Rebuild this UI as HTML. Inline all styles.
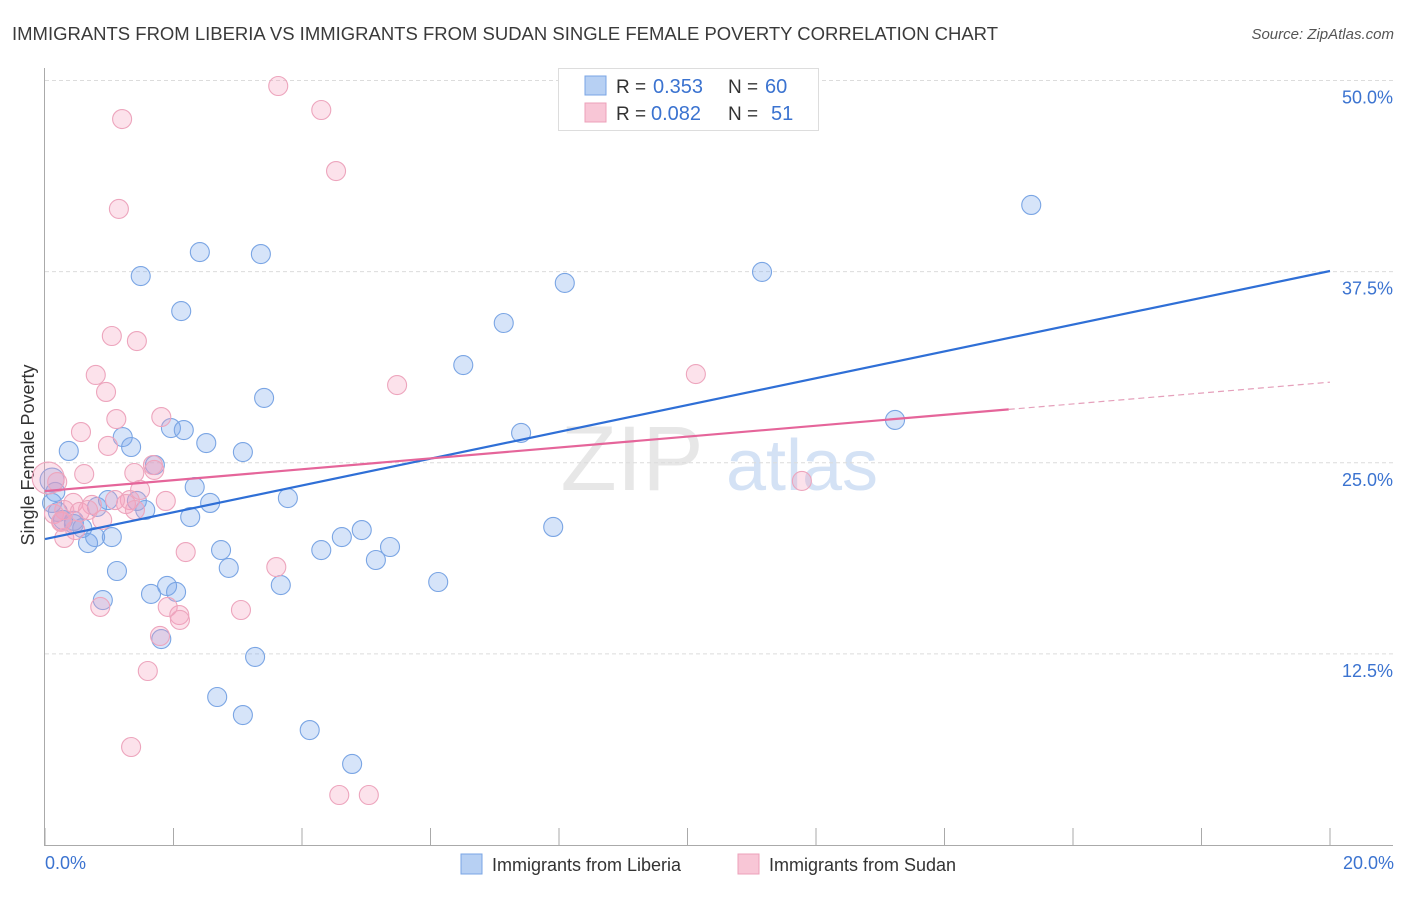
<!DOCTYPE html>
<html><head><meta charset="utf-8"><style>
body{margin:0;background:#fff;font-family:"Liberation Sans",sans-serif;}
svg text{font-family:"Liberation Sans",sans-serif;}
</style></head><body>
<svg id="chart" width="1406" height="892" xmlns="http://www.w3.org/2000/svg">
<text x="12" y="40" font-size="18" fill="#3a3a3a" textLength="986" lengthAdjust="spacingAndGlyphs">IMMIGRANTS FROM LIBERIA VS IMMIGRANTS FROM SUDAN SINGLE FEMALE POVERTY CORRELATION CHART</text>
<text x="1394" y="39" font-size="15" fill="#555" font-style="italic" text-anchor="end">Source: ZipAtlas.com</text>
<g>
<text x="632" y="490" font-size="92" fill="#d8d8d8" text-anchor="middle" font-family="Liberation Serif" opacity="0.6">ZIP</text>
<text x="802" y="490" font-size="72" fill="#b8cff0" text-anchor="middle" opacity="0.6">atlas</text>
</g>
<g id="grid"></g>
<line x1="44.5" y1="68" x2="44.5" y2="845" stroke="#aaa" stroke-width="1"/>
<line x1="44" y1="845.5" x2="1393" y2="845.5" stroke="#aaa" stroke-width="1"/>
<g id="xticks"></g>
<text transform="translate(34,455) rotate(-90)" font-size="18" fill="#333" text-anchor="middle">Single Female Poverty</text>
<text x="45" y="869" font-size="18" fill="#3b73d0">0.0%</text>
<text x="1394" y="869" font-size="18" fill="#3b73d0" text-anchor="end">20.0%</text>
<g id="points"></g>
<g id="lines"></g>
<g>
<rect x="558.5" y="68.5" width="260" height="62" fill="#fff" stroke="#ddd"/>
<rect x="585" y="76" width="21" height="19" fill="#b7d0f3" stroke="#7aa5e4"/>
<rect x="585" y="103" width="21" height="19" fill="#f8c6d6" stroke="#eca0b9"/>
<text x="616" y="93" font-size="19" fill="#333">R =</text>
<text x="653" y="93" font-size="20" fill="#3b73d0">0.353</text>
<text x="728" y="93" font-size="19" fill="#333">N =</text>
<text x="765" y="93" font-size="20" fill="#3b73d0">60</text>
<text x="616" y="120" font-size="19" fill="#333">R =</text>
<text x="651" y="120" font-size="20" fill="#3b73d0">0.082</text>
<text x="728" y="120" font-size="19" fill="#333">N =</text>
<text x="771" y="120" font-size="20" fill="#3b73d0">51</text>
</g>
<g>
<rect x="461" y="854" width="21" height="20" fill="#b7d0f3" stroke="#7aa5e4"/>
<text x="492" y="871" font-size="18" fill="#333">Immigrants from Liberia</text>
<rect x="738" y="854" width="21" height="20" fill="#f8c6d6" stroke="#eca0b9"/>
<text x="769" y="871" font-size="18" fill="#333">Immigrants from Sudan</text>
</g>
</svg>
<script>
const yTicks=[12.5,25,37.5,50];
const yTickLabels=["12.5%","25.0%","37.5%","50.0%"];
const xTickVals=[0,2,4,6,8,10,12,14,16,18,20];
const liberiaX=[0.11,0.16,0.11,0.20,0.28,0.37,0.45,0.58,0.67,0.78,0.81,0.90,0.98,1.04,1.12,1.21,1.34,1.43,1.49,1.56,1.65,1.71,1.81,1.90,1.96,2.04,2.12,2.16,2.26,2.33,2.41,2.51,2.57,2.74,2.86,3.08,3.08,2.68,3.27,3.36,3.41,3.67,3.78,4.12,4.30,4.62,4.78,4.93,5.15,5.37,6.12,6.51,7.14,7.41,7.91,8.09,11.16,13.23,15.35,0.45];
const liberiaY=[23.87,23.09,22.37,21.78,21.26,25.77,20.99,20.73,19.75,20.14,22.11,16.02,22.56,20.14,17.92,26.68,26.03,22.50,37.21,21.91,16.42,24.85,13.47,16.94,27.27,16.55,34.92,27.14,21.45,23.41,38.78,26.29,22.37,19.29,18.12,25.70,8.50,9.68,12.30,38.65,29.24,17.00,22.69,7.52,19.29,20.14,5.30,20.60,18.64,19.49,17.20,31.39,34.14,26.95,20.80,36.76,37.48,27.80,41.86,21.20];
const sudanX=[3.63,4.30,1.20,4.53,1.15,1.04,1.43,0.79,0.95,5.48,10.13,1.11,1.81,0.56,0.98,1.68,1.39,1.70,0.61,0.05,0.19,1.48,1.32,1.88,0.44,0.73,0.30,0.14,0.54,1.26,0.89,0.25,0.30,2.19,3.60,0.86,3.05,1.91,2.09,2.10,1.79,1.60,1.34,4.58,5.04,11.78,0.26,0.67,1.09,1.40,0.47];
const sudanY=[49.64,48.07,47.48,44.08,41.60,33.29,32.96,30.74,29.63,30.08,30.80,27.86,27.99,27.01,26.10,24.85,24.33,24.53,24.26,24.00,23.74,23.22,22.56,22.50,22.37,22.24,21.91,21.65,21.78,22.30,21.26,21.13,20.08,19.16,18.18,15.57,15.37,15.57,15.04,14.72,13.67,11.38,6.41,3.27,3.27,23.81,21.19,21.91,22.56,21.91,20.60];
const liberiaTrend=[20.01,37.54];
const sudanTrend=[23.15,30.27];
const sudanSolidEnd=15.0;
const NS="http://www.w3.org/2000/svg";
const xs=v=>45+v*64.25;
const ys=v=>845-v*15.29;
function mk(t,a,p){const e=document.createElementNS(NS,t);for(const k in a)e.setAttribute(k,a[k]);p.appendChild(e);return e;}
const grid=document.getElementById('grid');
yTicks.forEach((v,i)=>{
 const l=mk('line',{x1:45,x2:1393,y1:ys(v),y2:ys(v),stroke:'#dcdcdc','stroke-dasharray':'4,3'},grid);
 
 
 const t=mk('text',{x:1393,y:ys(v)+23,'font-size':18,fill:'#3b73d0','text-anchor':'end'},grid);
 t.textContent=yTickLabels[i];
 
 
});
const xt=document.getElementById('xticks');
xTickVals.forEach(v=>{
 const l=mk('line',{x1:xs(v),x2:xs(v),y1:828,y2:845,stroke:'#aaa'},xt);
 
 
});
const pts=document.getElementById('points');
liberiaX.forEach((v,i)=>{
 const c=mk('circle',{cx:xs(v),cy:ys(liberiaY[i]),r:i===0?12:9.5,fill:'rgba(120,165,235,0.3)',stroke:'#7aa5e4','stroke-width':1.1},pts);
 
 
});
sudanX.forEach((v,i)=>{
 const c=mk('circle',{cx:xs(v),cy:ys(sudanY[i]),r:i===19?16:9.5,fill:'rgba(245,160,190,0.3)',stroke:'#eda5bd','stroke-width':1.1},pts);
 
 
});
const ln=document.getElementById('lines');
const lb=mk('line',{x1:xs(0),y1:ys(liberiaTrend[0]),x2:xs(20),y2:ys(liberiaTrend[1]),stroke:'#2f6fd6','stroke-width':2.2},ln);


const sAt=x=>sudanTrend[0]+(sudanTrend[1]-sudanTrend[0])*x/20;
const ls=mk('line',{x1:xs(0),y1:ys(sAt(0)),x2:xs(sudanSolidEnd),y2:ys(sAt(sudanSolidEnd)),stroke:'#e5659a','stroke-width':2.2},ln);


const ld=mk('line',{x1:xs(sudanSolidEnd),y1:ys(sAt(sudanSolidEnd)),x2:xs(20),y2:ys(sAt(20)),stroke:'#e5a0bb','stroke-width':1.2,'stroke-dasharray':'6,4'},ln);


</script>
</body></html>
